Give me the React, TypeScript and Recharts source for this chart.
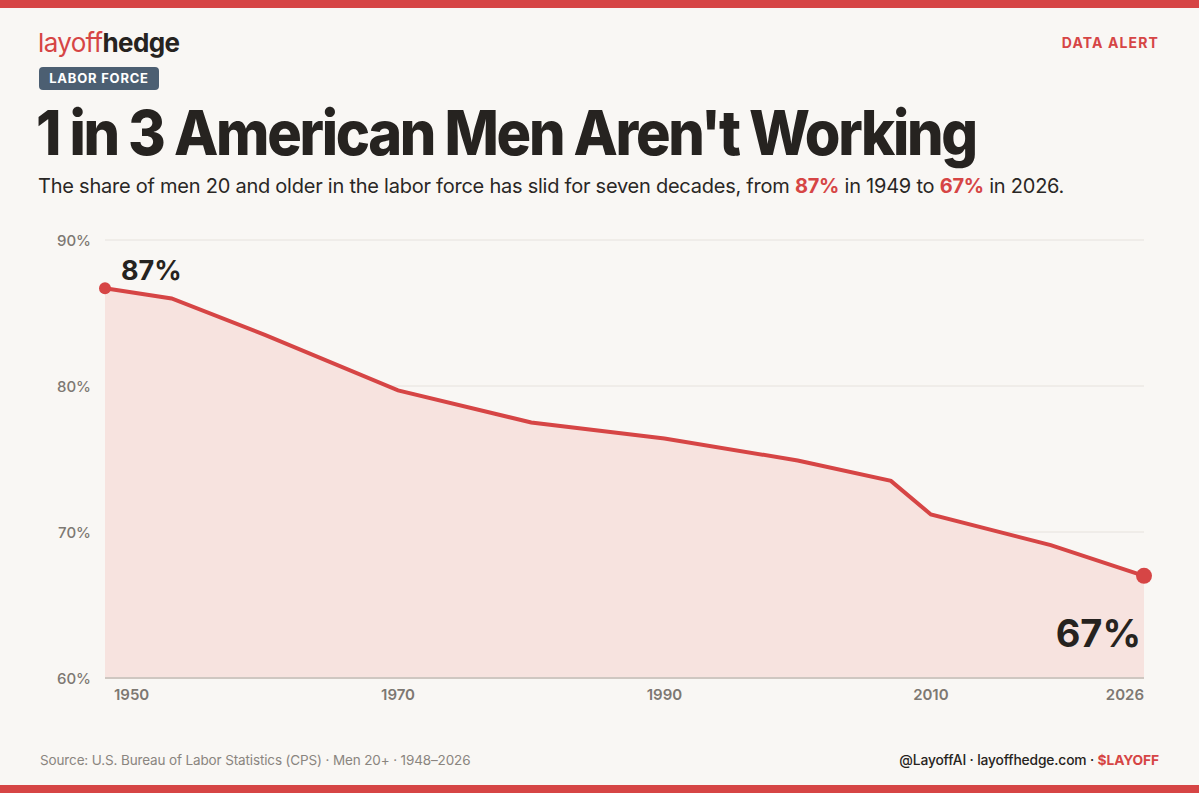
import React from 'react';
import {
  AreaChart,
  Area,
  XAxis,
  YAxis,
  CartesianGrid,
  ReferenceLine,
  LabelList,
} from 'recharts';

// participation rate, men 20+
const years = [1948, 1953, 1960, 1970, 1980, 1990, 2000, 2007, 2010, 2019, 2026];
const rates = [86.7, 86.0, 83.5, 79.7, 77.5, 76.4, 74.9, 73.5, 71.2, 69.1, 67.0];
const xTicks = [1950, 1970, 1990, 2010, 2026];
const yTicks = [60, 70, 80, 90];

const data = years.map((year, i) => ({ year, rate: rates[i] }));

const RED = '#d64545';
const INK = '#262320';
const BG = '#f9f7f4';
const FONT = 'Inter, "Noto Sans", sans-serif';

const XTick = (props: any) => {
  const { x, y, payload } = props;
  const last = payload.value === xTicks[xTicks.length - 1];
  return (
    <text
      x={x}
      y={y + 14}
      textAnchor={last ? 'end' : 'middle'}
      fontSize={15}
      fontWeight={600}
      fill="#7d7872"
      fontFamily={FONT}
    >
      {payload.value}
    </text>
  );
};

const YTick = (props: any) => {
  const { y, payload } = props;
  return (
    <text
      x={91}
      y={y + 6}
      textAnchor="end"
      fontSize={15}
      fontWeight={500}
      fill="#7d7872"
      fontFamily={FONT}
    >
      {payload.value}%
    </text>
  );
};

const EndDot = (props: any) => {
  const { cx, cy, index } = props;
  if (index !== 0 && index !== data.length - 1) return <g key={index} />;
  return <circle key={index} cx={cx} cy={cy} r={index === 0 ? 6 : 8} fill={RED} />;
};

const EndLabel = (props: any) => {
  const { x, y, index, value } = props;
  if (index === 0) {
    return (
      <text x={x + 16} y={y - 8} fontSize={27} fontWeight={700} fill={INK} fontFamily={FONT}>
        {Math.round(value)}%
      </text>
    );
  }
  if (index === data.length - 1) {
    return (
      <text
        x={x - 3}
        y={y + 71}
        textAnchor="end"
        fontSize={38}
        fontWeight={700}
        fill={INK}
        fontFamily={FONT}
      >
        {Math.round(value)}%
      </text>
    );
  }
  return null;
};

export default function App() {
  return (
    <div
      style={{
        position: 'absolute',
        left: 0,
        top: 0,
        width: 1199,
        height: 793,
        background: BG,
        fontFamily: FONT,
        color: INK,
        overflow: 'hidden',
      }}
    >
      <div style={{ position: 'absolute', left: 0, top: 0, width: 1199, height: 8, background: RED }} />
      <div style={{ position: 'absolute', left: 0, bottom: 0, width: 1199, height: 8, background: RED }} />

      <div style={{ position: 'absolute', left: 38, top: 27, fontSize: 26, letterSpacing: '-0.025em' }}>
        <span style={{ color: RED, fontWeight: 400 }}>layoff</span>
        <span style={{ color: INK, fontWeight: 700 }}>hedge</span>
      </div>
      <div
        style={{
          position: 'absolute',
          right: 40,
          top: 34,
          fontSize: 14,
          fontWeight: 700,
          letterSpacing: '0.08em',
          color: RED,
        }}
      >
        DATA ALERT
      </div>
      <div
        style={{
          position: 'absolute',
          left: 39,
          top: 67,
          width: 120,
          height: 23,
          borderRadius: 4,
          background: '#4c5f72',
          color: '#fff',
          fontSize: 13,
          fontWeight: 700,
          letterSpacing: '0.06em',
          lineHeight: '23px',
          textAlign: 'center',
        }}
      >
        LABOR FORCE
      </div>
      <div
        style={{
          position: 'absolute',
          left: 36,
          top: 93,
          fontSize: 62,
          fontWeight: 800,
          letterSpacing: '-0.04em',
          lineHeight: '80px',
          whiteSpace: 'nowrap',
          transform: 'scaleX(0.93)',
          transformOrigin: 'left center',
        }}
      >
        1 in 3 American Men Aren't Working
      </div>
      <div
        style={{
          position: 'absolute',
          left: 38,
          top: 172,
          fontSize: 20,
          fontWeight: 400,
          lineHeight: '28px',
          letterSpacing: '-0.012em',
          whiteSpace: 'nowrap',
          color: '#2a2725',
        }}
      >
        The share of men 20 and older in the labor force has slid for seven decades, from{' '}
        <span style={{ color: RED, fontWeight: 700 }}>87%</span> in 1949 to{' '}
        <span style={{ color: RED, fontWeight: 700 }}>67%</span> in 2026.
      </div>

      <div style={{ position: 'absolute', left: 0, top: 220 }}>
        <AreaChart
          width={1199}
          height={490}
          data={data}
          margin={{ top: 20, right: 55, left: 40, bottom: 0 }}
        >
          <CartesianGrid horizontal vertical={false} stroke="#e6e2dd" strokeWidth={1} />
          <XAxis
            dataKey="year"
            type="number"
            domain={[1948, 2026]}
            ticks={xTicks}
            tick={<XTick />}
            axisLine={false}
            tickLine={false}
            height={32}
            interval={0}
          />
          <YAxis
            type="number"
            domain={[60, 90]}
            ticks={yTicks}
            tick={<YTick />}
            axisLine={false}
            tickLine={false}
            width={65}
          />
          <ReferenceLine y={60} stroke="#cfc7c1" strokeWidth={2} />
          <Area
            type="linear"
            dataKey="rate"
            stroke={RED}
            strokeWidth={4}
            fill="#f7e3df"
            fillOpacity={1}
            dot={<EndDot />}
            activeDot={false}
            isAnimationActive={false}
          >
            <LabelList dataKey="rate" content={<EndLabel />} />
          </Area>
        </AreaChart>
      </div>

      <div
        style={{
          position: 'absolute',
          left: 40,
          top: 752,
          fontSize: 13.5,
          letterSpacing: '-0.01em',
          color: '#8a857f',
        }}
      >
        Source: U.S. Bureau of Labor Statistics (CPS) · Men 20+ · 1948–2026
      </div>
      <div
        style={{
          position: 'absolute',
          right: 40,
          top: 752,
          fontSize: 13.8,
          fontWeight: 500,
          letterSpacing: '-0.01em',
          color: INK,
        }}
      >
        @LayoffAI · layoffhedge.com · <span style={{ color: RED, fontWeight: 700 }}>$LAYOFF</span>
      </div>
    </div>
  );
}
